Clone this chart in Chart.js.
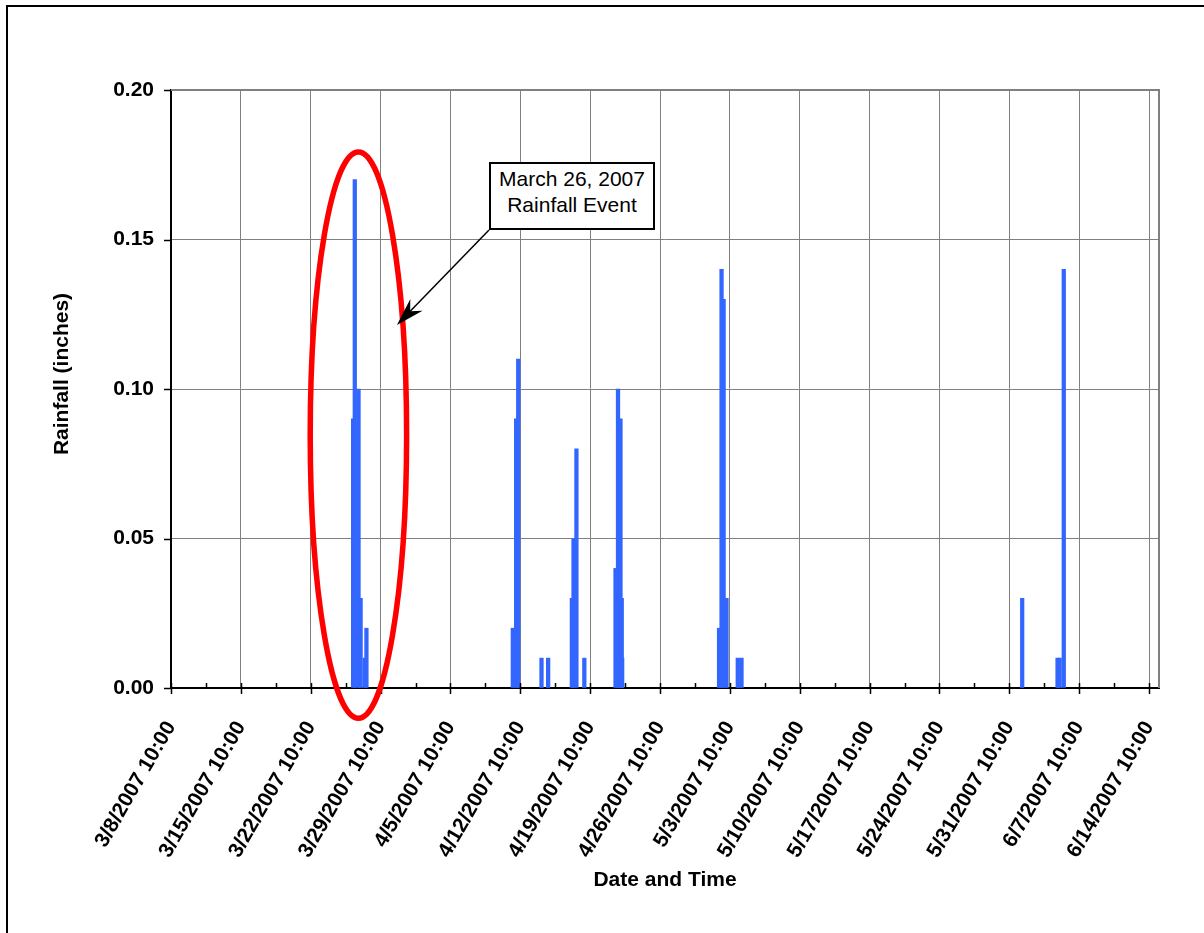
<!DOCTYPE html>
<html>
<head>
<meta charset="utf-8">
<title>Rainfall</title>
<script src="https://cdn.jsdelivr.net/npm/chart.js@4.4.0/dist/chart.umd.min.js"></script>
<style>
    html, body { margin: 0; padding: 0; background: #fff; overflow: hidden; }
    #wrap { position: relative; width: 1204px; height: 933px; overflow: hidden; }
    #frame { position: absolute; left: 6px; top: 5px; width: 1400px; height: 1200px; border: 2px solid #000; }
    #chart { position: absolute; left: 0; top: 0; }
    #callout {
        position: absolute; box-sizing: border-box; width: 166px; height: 68px;
        border: 2px solid #000; background: #fff; text-align: center;
        font-family: Arial, "Liberation Sans", sans-serif; font-size: 21px; line-height: 26px;
        padding-top: 2px; color: #000;
    }
</style>
</head>
<body>
<div id="wrap">
    <div id="frame"></div>
    <canvas id="chart" width="1204" height="933"></canvas>
    <div id="callout">March 26, 2007<br>Rainfall Event</div>
</div>
<script>
// Données : pluie horaire (pouces)
const times = [
    '3/26/2007 16:00', '3/26/2007 20:00', '3/27/2007 05:00', '3/27/2007 10:00', '3/27/2007 20:00', '3/28/2007 00:00',
    '4/11/2007 16:00', '4/12/2007 00:00', '4/12/2007 05:00',
    '4/14/2007 13:00', '4/15/2007 05:00',
    '4/17/2007 14:00', '4/17/2007 18:00', '4/18/2007 01:00', '4/18/2007 20:00',
    '4/21/2007 23:00', '4/22/2007 05:00', '4/22/2007 11:00', '4/22/2007 14:00', '4/22/2007 15:00',
    '5/2/2007 08:00', '5/2/2007 14:00', '5/2/2007 19:00', '5/3/2007 02:00', '5/4/2007 05:00', '5/4/2007 14:00',
    '6/1/2007 17:00', '6/5/2007 06:00', '6/5/2007 11:00', '6/5/2007 21:00'
];
const rainfall = [
    0.09, 0.17, 0.10, 0.03, 0.01, 0.02,
    0.02, 0.09, 0.11,
    0.01, 0.01,
    0.03, 0.05, 0.08, 0.01,
    0.04, 0.10, 0.09, 0.03, 0.01,
    0.02, 0.14, 0.13, 0.03, 0.01, 0.01,
    0.03, 0.01, 0.01, 0.14
];
const tickLabels = [
    '3/8/2007 10:00', '3/15/2007 10:00', '3/22/2007 10:00', '3/29/2007 10:00', '4/5/2007 10:00',
    '4/12/2007 10:00', '4/19/2007 10:00', '4/26/2007 10:00', '5/3/2007 10:00', '5/10/2007 10:00',
    '5/17/2007 10:00', '5/24/2007 10:00', '5/31/2007 10:00', '6/7/2007 10:00', '6/14/2007 10:00'
];
const axisStart = '3/8/2007 10:00';
const axisEnd = '6/15/2007 10:00';

// Conversion "m/j/aaaa hh:mm" -> jours depuis le début de l'axe
function toMs(s) {
    const [d, t] = s.split(' ');
    const [mo, da, yr] = d.split('/').map(Number);
    const [h, mi] = t.split(':').map(Number);
    return Date.UTC(yr, mo - 1, da, h, mi);
}
const t0 = toMs(axisStart);
const toDays = s => (toMs(s) - t0) / 86400000;

const tickValues = tickLabels.map(toDays);
const points = times.map((t, i) => ({ x: toDays(t), y: rainfall[i] }));

const FONT = 'Arial, "Liberation Sans", sans-serif';
const yTitle = 'Rainfall (inches)';

// Annotation (ellipse + flèche), en unités des axes
const ellipse = { day: 18.78, value: 0.0846, rxDays: 4.83, ryValue: 0.0947 };
const arrowTip = { day: 22.64, value: 0.1214 };
const calloutAt = { day: 31.85, value: 0.1759 };

const excelLook = {
    id: 'excelLook',
    afterDraw(chart) {
        const { ctx, chartArea: a, scales: { x, y } } = chart;
        ctx.save();

        // bordure de la zone de traçage (haut / droite)
        ctx.strokeStyle = '#808080';
        ctx.lineWidth = 2;
        ctx.beginPath();
        ctx.moveTo(a.left, a.top);
        ctx.lineTo(a.right, a.top);
        ctx.lineTo(a.right, a.bottom);
        ctx.stroke();

        // graduations
        ctx.strokeStyle = '#000';
        ctx.lineWidth = 1.5;
        ctx.beginPath();
        tickValues.forEach((v, i) => {
            const px = Math.round(x.getPixelForValue(v)) + 0.5;
            ctx.moveTo(px, a.bottom - 5);
            ctx.lineTo(px, a.bottom + 6);
            if (i < tickValues.length - 1) {
                const mx = Math.round(x.getPixelForValue(v + 3.5)) + 0.5;
                ctx.moveTo(mx, a.bottom - 5);
                ctx.lineTo(mx, a.bottom);
            }
        });
        y.ticks.forEach(t => {
            const py = Math.round(y.getPixelForValue(t.value)) + 0.5;
            ctx.moveTo(a.left - 7, py);
            ctx.lineTo(a.left, py);
        });
        ctx.stroke();

        // titre de l'axe Y (un peu au-dessus du centre, comme Excel)
        ctx.fillStyle = '#000';
        ctx.font = 'bold 21px ' + FONT;
        ctx.textAlign = 'center';
        ctx.textBaseline = 'middle';
        ctx.translate(62, (a.top + a.bottom) / 2 - 15);
        ctx.rotate(-Math.PI / 2);
        ctx.fillText(yTitle, 0, 0);
        ctx.setTransform(1, 0, 0, 1, 0, 0);

        // ellipse rouge
        const cx = x.getPixelForValue(ellipse.day);
        const cy = y.getPixelForValue(ellipse.value);
        const rx = x.getPixelForValue(ellipse.day + ellipse.rxDays) - cx;
        const ry = cy - y.getPixelForValue(ellipse.value + ellipse.ryValue);
        ctx.strokeStyle = '#ff0000';
        ctx.lineWidth = 5.5;
        ctx.beginPath();
        ctx.ellipse(cx, cy, rx, ry, 0, 0, Math.PI * 2);
        ctx.stroke();

        // encadré + flèche
        const bx = Math.round(x.getPixelForValue(calloutAt.day));
        const by = Math.round(y.getPixelForValue(calloutAt.value));
        const box = document.getElementById('callout');
        box.style.left = bx + 'px';
        box.style.top = by + 'px';
        const sx = bx, sy = by + 68;
        const tx = x.getPixelForValue(arrowTip.day);
        const ty = y.getPixelForValue(arrowTip.value);
        const ang = Math.atan2(ty - sy, tx - sx);
        const len = 28, half = 8.5;
        const back = (d, off) => [tx - d * Math.cos(ang) - off * Math.sin(ang), ty - d * Math.sin(ang) + off * Math.cos(ang)];
        ctx.strokeStyle = '#000';
        ctx.lineWidth = 1.5;
        ctx.beginPath();
        ctx.moveTo(sx, sy);
        ctx.lineTo(...back(18, 0));
        ctx.stroke();
        ctx.fillStyle = '#000';
        ctx.beginPath();
        ctx.moveTo(tx, ty);
        ctx.lineTo(...back(len, half));
        ctx.lineTo(...back(19, 0));
        ctx.lineTo(...back(len, -half));
        ctx.closePath();
        ctx.fill();

        ctx.restore();
    }
};

new Chart(document.getElementById('chart'), {
    type: 'bar',
    data: {
        datasets: [{
            label: 'Rainfall',
            data: points,
            backgroundColor: '#3366ff',
            borderWidth: 0,
            barThickness: 3.6
        }]
    },
    options: {
        responsive: false,
        animation: false,
        devicePixelRatio: 1,
        layout: { padding: { top: 90, right: 45, left: 0, bottom: 0 } },
        plugins: { legend: { display: false }, tooltip: { enabled: false } },
        scales: {
            x: {
                type: 'linear',
                min: toDays(axisStart),
                max: toDays(axisEnd),
                offset: false,
                afterBuildTicks: s => { s.ticks = tickValues.map(v => ({ value: v })); },
                afterFit: s => { s.height = 245; },
                grid: { color: '#808080', lineWidth: 1, drawTicks: false, offset: false },
                border: { color: '#000', width: 2 },
                ticks: {
                    autoSkip: false, minRotation: 60, maxRotation: 60, padding: 29,
                    color: '#000', font: { family: FONT, size: 21, weight: 'bold' },
                    callback: (v, i) => tickLabels[i]
                },
                title: {
                    display: true, text: 'Date and Time', color: '#000',
                    font: { family: FONT, size: 21, weight: 'bold' },
                    padding: { top: 0, bottom: 40 }
                }
            },
            y: {
                min: 0,
                max: 0.2,
                afterFit: s => { s.width = 171; },
                grid: { color: '#808080', lineWidth: 1, drawTicks: false },
                border: { color: '#000', width: 2 },
                ticks: {
                    stepSize: 0.05, padding: 17, color: '#000',
                    font: { family: FONT, size: 21, weight: 'bold' },
                    callback: v => v.toFixed(2)
                },
                title: { display: false, text: yTitle }
            }
        }
    },
    plugins: [excelLook]
});
</script>
</body>
</html>
